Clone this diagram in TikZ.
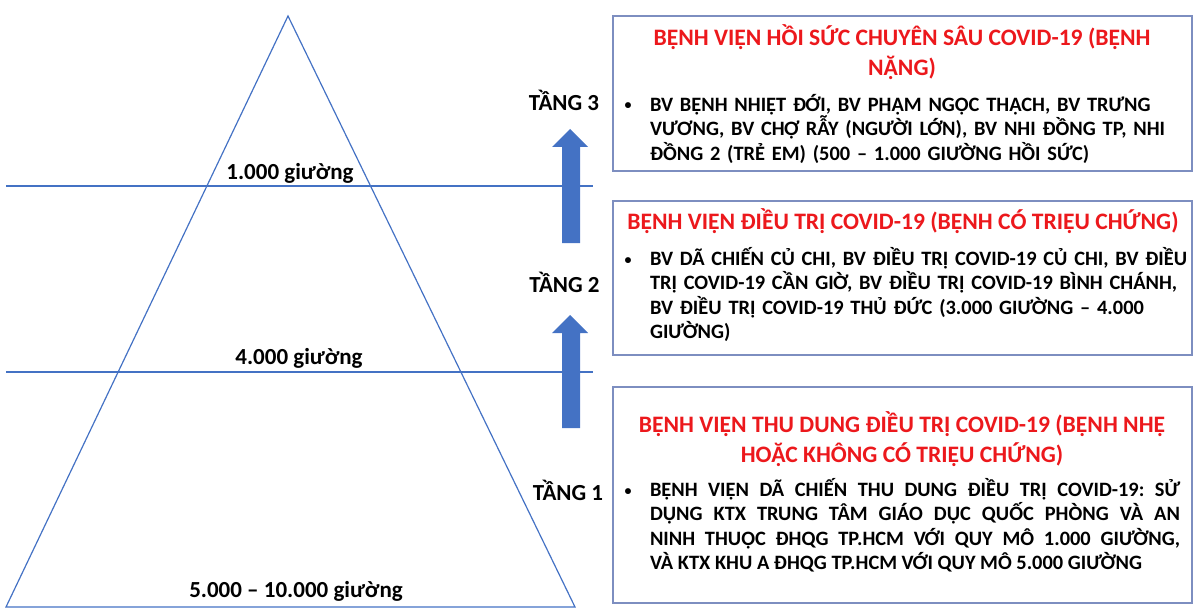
\documentclass[tikz,border=0pt]{standalone}
\usepackage{fontspec}
\setmainfont{Carlito}
\usepackage{tikz}
\usetikzlibrary{positioning}

\definecolor{lineblue}{RGB}{68,114,196}
\definecolor{frameblue}{RGB}{125,142,192}
\definecolor{headred}{RGB}{236,24,28}

\frenchspacing
\begin{document}
\begin{tikzpicture}[x=0.5pt, y=-0.5pt,
    every node/.style={inner sep=0pt, outer sep=0pt},
    count/.style={anchor=base, font=\fontsize{11.5}{14}\selectfont\bfseries},
    tier/.style={anchor=base, font=\fontsize{11.5}{14}\selectfont\bfseries},
    panel/.style={draw=frameblue, line width=0.75pt},
    head/.style={anchor=base, align=center, text=headred,
        font=\fontsize{11.8}{15}\selectfont\bfseries},
    body/.style={anchor=base west, text width=285pt, align=left,
        font=\fontsize{10.2}{12.2}\selectfont\bfseries},
    dot/.style={anchor=base, font=\fontsize{7}{12}\selectfont\bfseries}]
    \useasboundingbox (0,0) rectangle (1200,615);

    % Pyramid corners
    \coordinate (apex) at (288,16);
    \coordinate (bl) at (6,607);
    \coordinate (br) at (575,607);
    \draw[lineblue, line width=0.6pt] (apex) -- (br) -- (bl) -- cycle;

    % Level lines
    \coordinate (l1a) at (6,186);  \coordinate (l1b) at (593,186);
    \coordinate (l2a) at (6,372);  \coordinate (l2b) at (593,372);
    \draw[lineblue, line width=0.9pt] (l1a) -- (l1b);
    \draw[lineblue, line width=0.9pt] (l2a) -- (l2b);

    % Bed counts
    \node[count] (c3) at (290,179) {1.000 giường};
    \node[count] (c2) at (299,364.5) {4.000 giường};
    \node[count] (c1) at (296,597) {5.000 – 10.000 giường};

    % Block arrows
    \foreach \b/\t in {243/129, 428/315}
        \fill[lineblue] (562,\b) -- (562,\t+18) -- (552,\t+18) -- (570,\t)
            -- (588,\t+18) -- (580,\t+18) -- (580,\b) -- cycle;

    % Tier labels
    \node[tier] (t3) at (564,110.7) {TẦNG 3};
    \node[tier] (t2) at (564.5,292.5) {TẦNG 2};
    \node[tier] (t1) at (568,500) {TẦNG 1};

    % Panels
    \draw[panel] (613,16) rectangle (1192,171);
    \draw[panel] (613,201) rectangle (1192,355);
    \draw[panel] (613,387) rectangle (1192,603);

    % Tier 3 panel (head anchored on its last line)
    \node[head] (h3) at (902,75.5) {BỆNH VIỆN HỒI SỨC CHUYÊN SÂU COVID-19 (BỆNH\\NẶNG)};
    \node[dot] (d3) at (628,110) {•};
    \node[body] (b3) at (650,111.3) {BV BỆNH NHIỆT ĐỚI, BV PHẠM NGỌC THẠCH, BV TRƯNG\\
        VƯƠNG, BV CHỢ RẪY (NGƯỜI LỚN), BV NHI ĐỒNG TP, NHI\\
        ĐỒNG 2 (TRẺ EM) (500 – 1.000 GIƯỜNG HỒI SỨC)};

    % Tier 2 panel
    \node[head] (h2) at (903,229.5) {BỆNH VIỆN ĐIỀU TRỊ COVID-19 (BỆNH CÓ TRIỆU CHỨNG)};
    \node[dot] (d2) at (628,264) {•};
    \node[body] (b2) at (650,265.3) {BV DÃ CHIẾN CỦ CHI, BV ĐIỀU TRỊ COVID-19 CỦ CHI, BV ĐIỀU\\
        TRỊ COVID-19 CẦN GIỜ, BV ĐIỀU TRỊ COVID-19 BÌNH CHÁNH,\\
        BV ĐIỀU TRỊ COVID-19 THỦ ĐỨC (3.000 GIƯỜNG – 4.000\\
        GIƯỜNG)};

    % Tier 1 panel
    \node[head] (h1) at (902,462.5) {BỆNH VIỆN THU DUNG ĐIỀU TRỊ COVID-19 (BỆNH NHẸ\\
        HOẶC KHÔNG CÓ TRIỆU CHỨNG)};
    \node[dot] (d1) at (628,495) {•};
    \node[body, text width=265pt, align=justify] (b1) at (650,496.3) {\hyphenpenalty=10000
        BỆNH VIỆN DÃ CHIẾN THU DUNG ĐIỀU TRỊ COVID-19: SỬ\linebreak
        DỤNG KTX TRUNG TÂM GIÁO DỤC QUỐC PHÒNG VÀ AN\linebreak
        NINH THUỘC ĐHQG TP.HCM VỚI QUY MÔ 1.000 GIƯỜNG,\linebreak
        VÀ KTX KHU A ĐHQG TP.HCM VỚI QUY MÔ 5.000 GIƯỜNG};
\end{tikzpicture}
\end{document}
